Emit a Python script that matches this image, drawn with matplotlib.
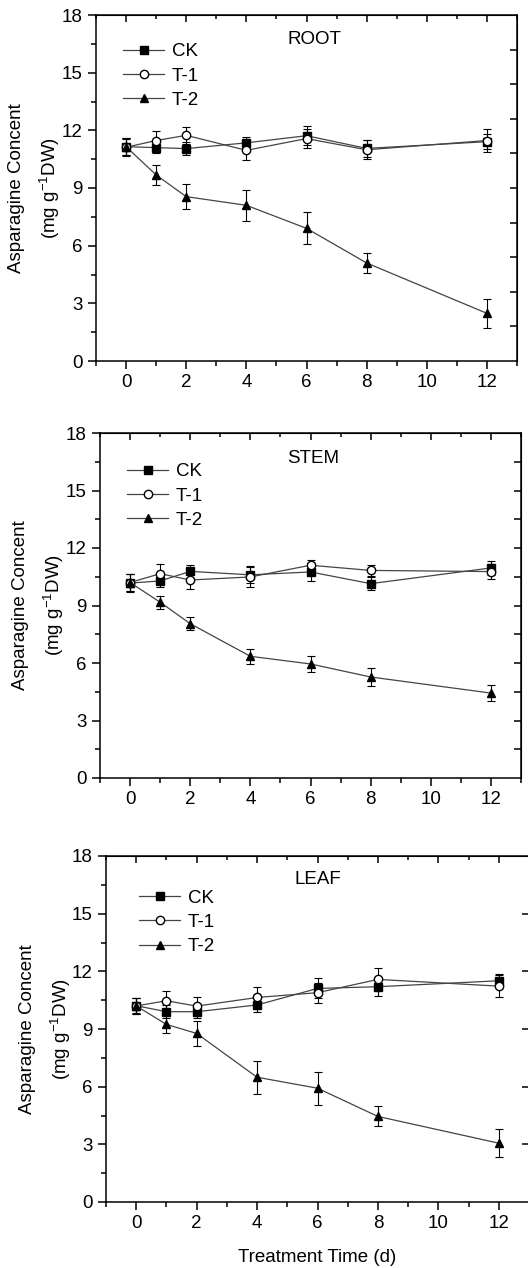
import matplotlib
matplotlib.use("Agg")
import matplotlib.pyplot as plt
from matplotlib.ticker import MultipleLocator, FixedLocator

plt.rcParams['font.family'] = ['Liberation Sans', 'DejaVu Sans']
plt.rcParams['mathtext.default'] = 'regular'

# treatment days
days = [0, 1, 2, 4, 6, 8, 12]
series_names = ["CK", "T-1", "T-2"]
organs = ["ROOT", "STEM", "LEAF"]

# ROOT
root_ck = [11.15, 11.1, 11.05, 11.35, 11.72, 11.06, 11.41]
root_ck_err = [0.45, 0.3, 0.35, 0.3, 0.5, 0.45, 0.4]
root_t1 = [11.12, 11.47, 11.74, 10.96, 11.57, 10.99, 11.47]
root_t1_err = [0.45, 0.5, 0.45, 0.5, 0.5, 0.5, 0.6]
root_t2 = [11.15, 9.68, 8.55, 8.1, 6.9, 5.1, 2.48]
root_t2_err = [0.45, 0.5, 0.64, 0.8, 0.83, 0.5, 0.75]

# STEM
stem_ck = [10.17, 10.28, 10.78, 10.6, 10.75, 10.14, 10.96]
stem_ck_err = [0.45, 0.3, 0.35, 0.45, 0.45, 0.35, 0.35]
stem_t1 = [10.2, 10.66, 10.33, 10.49, 11.1, 10.83, 10.77]
stem_t1_err = [0.45, 0.5, 0.45, 0.5, 0.27, 0.3, 0.4]
stem_t2 = [10.2, 9.17, 8.05, 6.35, 5.95, 5.27, 4.43]
stem_t2_err = [0.45, 0.35, 0.35, 0.38, 0.4, 0.45, 0.4]

# LEAF
leaf_ck = [10.21, 9.9, 9.9, 10.25, 11.11, 11.2, 11.51]
leaf_ck_err = [0.4, 0.35, 0.35, 0.35, 0.52, 0.5, 0.35]
leaf_t1 = [10.2, 10.47, 10.19, 10.64, 10.89, 11.58, 11.23]
leaf_t1_err = [0.4, 0.52, 0.45, 0.56, 0.52, 0.57, 0.59]
leaf_t2 = [10.2, 9.24, 8.77, 6.49, 5.92, 4.45, 3.06]
leaf_t2_err = [0.4, 0.47, 0.64, 0.85, 0.86, 0.52, 0.73]

panel_data = [
    [(root_ck, root_ck_err), (root_t1, root_t1_err), (root_t2, root_t2_err)],
    [(stem_ck, stem_ck_err), (stem_t1, stem_t1_err), (stem_t2, stem_t2_err)],
    [(leaf_ck, leaf_ck_err), (leaf_t1, leaf_t1_err), (leaf_t2, leaf_t2_err)],
]

W, H = 528, 1268
# axes boxes in pixels: left, right, top, bottom
boxes = [(96, 517, 15, 361), (100, 521, 433, 778), (106, 529, 856, 1202)]
legend_anchor = [(0.064, 0.918), (0.064, 0.912), (0.078, 0.903)]
title_pos = [(0.52, 0.93), (0.506, 0.926), (0.502, 0.932)]
ylabel_x = [62, 66, 73]
right_tick_step = [1.8, 1.5, 3.0]

styles = [
    dict(marker='s', mfc='black', ms=5.5),
    dict(marker='o', mfc='white', ms=6),
    dict(marker='^', mfc='black', ms=6),
]

fs = 13.5
fig = plt.figure(figsize=(W / 100, H / 100), dpi=100)

for i, (l, r, t, b) in enumerate(boxes):
    ax = fig.add_axes([l / W, 1 - b / H, (r - l) / W, (b - t) / H])
    for (vals, errs), name, st in zip(panel_data[i], series_names, styles):
        ax.errorbar(days, vals, yerr=errs, fmt='none', ecolor='black',
                    elinewidth=0.8, capsize=3, capthick=0.8)
        ax.plot(days, vals, color='#444444', lw=0.9, marker=st['marker'],
                mfc=st['mfc'], mec='black', ms=st['ms'], label=name)
    ax.set_xlim(-1, 13)
    ax.set_ylim(0, 18)
    ax.xaxis.set_major_locator(MultipleLocator(2))
    ax.xaxis.set_minor_locator(MultipleLocator(1))
    ax.yaxis.set_major_locator(MultipleLocator(3))
    ax.yaxis.set_minor_locator(MultipleLocator(1.5))
    ax.tick_params(which='major', direction='out', length=6, width=1.1,
                   labelsize=fs, top=False, right=False)
    ax.tick_params(which='minor', direction='out', length=3.5, width=1.1,
                   top=False, right=False)
    for s in ax.spines.values():
        s.set_linewidth(1.1)

    # inward ticks on top and right
    sx = ax.secondary_xaxis('top')
    sx.xaxis.set_major_locator(MultipleLocator(2))
    sx.xaxis.set_minor_locator(MultipleLocator(1))
    sx.tick_params(which='major', direction='in', length=5, width=1.1, labeltop=False)
    sx.tick_params(which='minor', direction='in', length=3, width=1.1)
    sy = ax.secondary_yaxis('right')
    sy.yaxis.set_major_locator(FixedLocator(
        [right_tick_step[i] * k for k in range(1, int(18 / right_tick_step[i]))]))
    sy.tick_params(which='major', direction='in', length=5, width=1.1, labelright=False)

    ax.set_ylabel("Asparagine Concent\n(mg g$^{-1}$DW)", fontsize=fs, linespacing=1.7)
    ax.yaxis.set_label_coords((ylabel_x[i] - l) / (r - l), 0.5)
    ax.text(title_pos[i][0], title_pos[i][1], organs[i], transform=ax.transAxes,
            ha='center', va='center', fontsize=fs)
    ax.legend(loc='upper left', bbox_to_anchor=legend_anchor[i], frameon=False,
              fontsize=fs, handlelength=2.2, handletextpad=0.4, labelspacing=0.38,
              borderpad=0, borderaxespad=0)
    if i == 2:
        ax.set_xlabel("Treatment Time (d)", fontsize=fs, labelpad=12)

fig.savefig("out.png", dpi=100)
